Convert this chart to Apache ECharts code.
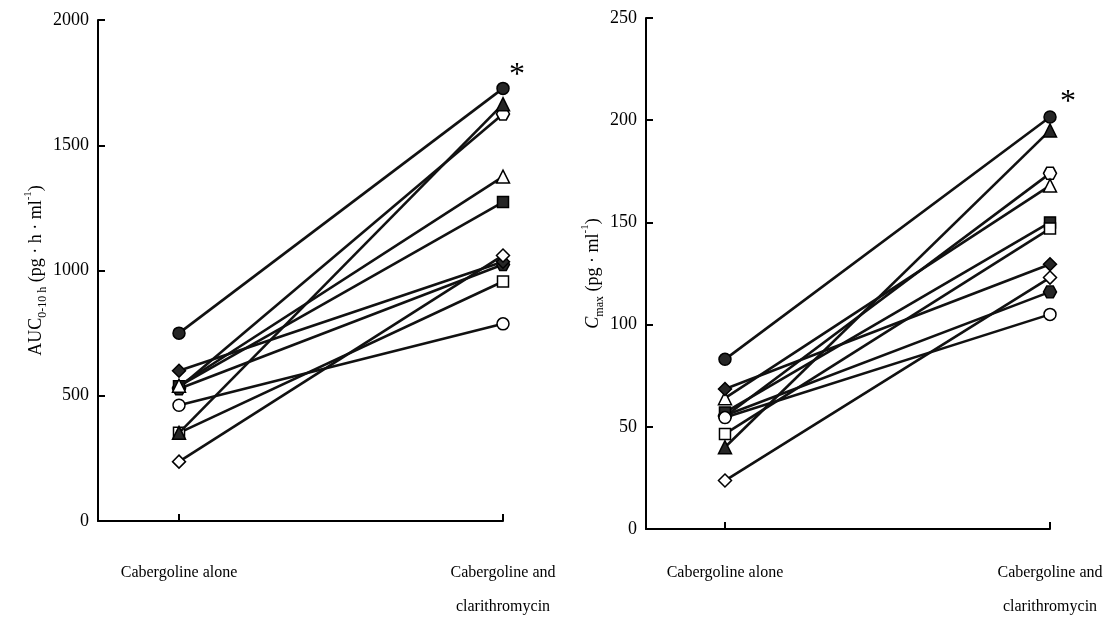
<!DOCTYPE html>
<html><head><meta charset="utf-8">
<script src="https://cdn.jsdelivr.net/npm/echarts@6/dist/echarts.min.js"></script>
<style>html,body{margin:0;padding:0;background:#fff}#c{width:1118px;height:624px}</style>
</head><body><div id="c"></div>
<script>
// ---- data ----
const categories = ['Cabergoline alone', 'Cabergoline and\nclarithromycin'];
const subjects = ['S1','S2','S3','S4','S5','S6','S7','S8','S9','S10'];
const aucAlone  = [532, 528, 538, 352, 352, 540, 600, 237, 462, 750];
const aucCombo  = [1625, 1024, 1273, 956, 1664, 1375, 1035, 1060, 787, 1727];
const cmaxAlone = [55, 55.5, 57, 46.5, 40, 64, 68.5, 23.7, 54.5, 83];
const cmaxCombo = [174, 116, 150, 147, 195, 168, 129.5, 123, 105, 201.6];
const aucTicks  = [0, 500, 1000, 1500, 2000];
const cmaxTicks = [0, 50, 100, 150, 200, 250];
const significantMark = '*';

// ---- styles ----
const HEX = 'path://M-0.5,-0.866 L0.5,-0.866 L1,0 L0.5,0.866 L-0.5,0.866 L-1,0 Z';
const symbolShapes = [HEX, HEX, 'rect', 'rect', 'triangle', 'triangle', 'diamond', 'diamond', 'circle', 'circle'];
const symbolFilled = [false, true, true, false, true, false, true, false, false, true];
const symbolSizes = {};
symbolSizes[HEX] = [13, 12]; symbolSizes.rect = 11; symbolSizes.triangle = 13; symbolSizes.diamond = 13; symbolSizes.circle = 12;
const FONT = 'Liberation Serif';
const DARK = '#262626';

const chart = echarts.init(document.getElementById('c'));

function xAxisFor(gridIndex, min, margin) {
  return {
    type: 'value', gridIndex, min, max: 1,
    axisLine: {show: true, onZero: false, lineStyle: {color: '#000', width: 2}},
    axisTick: {show: true, inside: true, length: 7, lineStyle: {color: '#000', width: 2}, customValues: [0, 1]},
    axisLabel: {show: true, customValues: [0, 1], formatter: v => categories[Math.round(v)] || '',
      fontFamily: FONT, fontSize: 16, color: '#000', lineHeight: 34, margin},
    splitLine: {show: false}
  };
}
function yAxisFor(gridIndex, ticks, name, nameGap) {
  return {
    type: 'value', gridIndex, min: ticks[0], max: ticks[ticks.length - 1], interval: ticks[1] - ticks[0],
    axisLine: {show: true, onZero: false, lineStyle: {color: '#000', width: 2}},
    axisTick: {show: true, inside: true, length: 7, lineStyle: {color: '#000', width: 2}},
    axisLabel: {fontFamily: FONT, fontSize: 18, color: '#000', margin: 9, formatter: v => String(v)},
    splitLine: {show: false},
    name, nameLocation: 'middle', nameRotate: 90, nameGap,
    nameTextStyle: {
      fontFamily: FONT, fontSize: 18, color: '#000', lineHeight: 26,
      rich: {
        n: {fontFamily: FONT, fontSize: 18, color: '#000', lineHeight: 26},
        i: {fontFamily: FONT, fontSize: 18, fontStyle: 'italic', color: '#000', lineHeight: 26},
        s: {fontFamily: FONT, fontSize: 12, color: '#000', lineHeight: 26, verticalAlign: 'bottom'},
        p: {fontFamily: FONT, fontSize: 11, color: '#000', lineHeight: 26, verticalAlign: 'top'}
      }
    }
  };
}

const series = [];
function addPanel(idx, alone, combo) {
  subjects.forEach((s, k) => {
    const shape = symbolShapes[k];
    const data = [[0, alone[k]], {value: [1, combo[k]]}];
    if (k === subjects.length - 1) {
      data[1].label = {show: true, formatter: significantMark, position: 'top',
        offset: idx === 0 ? [14, 15] : [18, 13], fontFamily: FONT, fontSize: 32, color: '#000'};
    }
    series.push({
      type: 'line', name: s, xAxisIndex: idx, yAxisIndex: idx, data,
      symbol: shape, symbolSize: symbolSizes[shape], clip: false,
      lineStyle: {color: '#111', width: 2.6},
      itemStyle: {color: symbolFilled[k] ? DARK : '#fff', borderColor: '#000', borderWidth: 1.5, opacity: 1},
      emphasis: {disabled: true}, animation: false, z: 2 + k
    });
  });
}
addPanel(0, aucAlone, aucCombo);
addPanel(1, cmaxAlone, cmaxCombo);

chart.setOption({
  backgroundColor: '#fff',
  animation: false,
  grid: [
    {left: 98, top: 20, width: 405, height: 506},
    {left: 646, top: 18, width: 404, height: 516}
  ],
  xAxis: [xAxisFor(0, -0.25, 35), xAxisFor(1, -0.243, 27)],
  yAxis: [
    yAxisFor(0, aucTicks, '{n|AUC}{s|0-10 h}{n| (pg · h · ml}{p|-1}{n|)}', 30),
    yAxisFor(1, cmaxTicks, '{i|C}{s|max}{n| (pg · ml}{p|-1}{n|)}', 34)
  ],
  series
});
</script>
</body></html>
